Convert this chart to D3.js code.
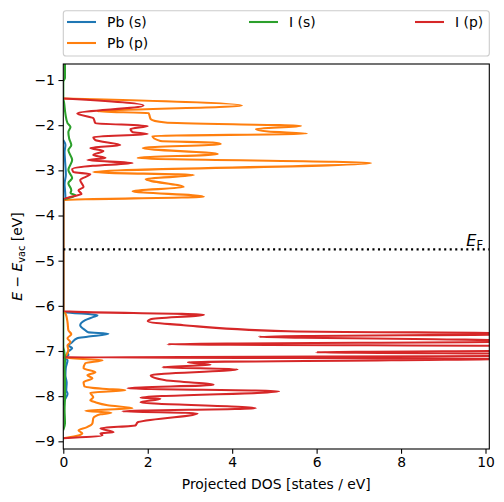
<!DOCTYPE html>
<html><head><meta charset="utf-8">
<script src="https://cdn.jsdelivr.net/npm/d3@7"></script>
<style>body{margin:0;background:#fff} svg{display:block} text{font-family:"DejaVu Sans",sans-serif}</style>
</head><body><svg id="c" width="504" height="502"></svg>
<script>
const seriesNames = ["Pb (s)", "Pb (p)", "I (s)", "I (p)"];
const seriesColors = ["#1f77b4", "#ff7f0e", "#2ca02c", "#d62728"];

// [energy (eV), DOS (states/eV)]
const pbS = [[-2.33,0],[-2.44,0.05],[-2.60,0.03],[-2.77,0.04],[-3.10,0.06],[-3.30,0.03],[-3.44,0.04],[-3.61,0.05],[-3.66,0],
  [-6.119,0],[-6.141,0.05],[-6.207,0.81],[-6.25,0.70],[-6.318,0.52],[-6.429,0.40],[-6.54,0.52],[-6.584,0.59],[-6.618,1.07],
  [-6.684,0.57],[-6.717,0.33],[-6.806,0.21],[-6.873,0.12],[-6.939,0.21],[-7.028,0.10],[-7.094,0.12],[-7.15,0.02],[-7.205,0.10],
  [-7.37,0.06],[-7.537,0.05],[-7.70,0.08],[-7.87,0.07],[-7.95,0.10],[-8.09,0.03],[-8.2,0]];
const pbP = [[-1.41,0],[-1.565,4.23],[-1.698,0.81],[-1.731,2.02],[-1.864,2.07],[-1.942,2.42],[-2.019,5.63],[-2.086,4.56],
  [-2.141,4.85],[-2.186,5.77],[-2.241,2.11],[-2.352,2.30],[-2.385,3.54],[-2.418,3.73],[-2.507,1.88],[-2.64,3.66],[-2.728,1.76],
  [-2.839,7.29],[-3.039,0.71],[-3.105,3.09],[-3.194,1.95],[-3.371,2.85],[-3.46,1.64],[-3.582,3.33],[-3.659,0],
  [-6.119,0],[-6.163,0.05],[-6.363,0.10],[-6.54,0.12],[-6.629,0.19],[-6.717,0.10],[-6.806,0.17],[-6.873,0.10],[-6.983,0.12],
  [-7.094,0.07],[-7.15,0.01],[-7.205,0.93],[-7.271,0.52],[-7.382,0.48],[-7.471,0.76],[-7.537,0.57],[-7.604,0.69],[-7.693,0.48],
  [-7.781,0.50],[-7.837,0.93],[-7.87,1.47],[-7.925,0.64],[-8.025,0.71],[-8.091,0.64],[-8.136,0.76],[-8.202,1.05],[-8.268,1.64],
  [-8.324,0.52],[-8.368,1.14],[-8.402,0.88],[-8.49,0.71],[-8.601,0.69],[-8.69,0.55],[-8.756,0.36],[-8.823,0.45],[-8.867,0.38],[-8.933,0]];
const iS = [[-0.60,0.04],[-0.95,0.04],[-1.04,0],[-1.40,0],[-1.51,0.02],[-1.75,0.05],[-1.953,0.10],[-2.041,0.17],[-2.152,0.12],
  [-2.30,0.14],[-2.44,0.19],[-2.551,0.12],[-2.773,0.21],[-2.994,0.12],[-3.172,0.21],[-3.283,0.12],[-3.438,0.19],[-3.504,0.17],
  [-3.559,0.29],[-3.659,0],
  [-6.9,0],[-7.0,0.02],[-7.2,0.04],[-7.4,0.03],[-7.6,0.04],[-8.0,0.04],[-8.3,0.03],[-8.6,0.04],[-8.75,0]];
const iP = [[-1.41,0],[-1.565,1.90],[-1.742,0.33],[-1.842,0.71],[-1.953,0.76],[-2.019,2.00],[-2.086,1.59],[-2.152,1.64],
  [-2.197,2.00],[-2.263,0.71],[-2.33,0.76],[-2.44,1.35],[-2.507,0.64],[-2.573,0.95],[-2.662,0.71],[-2.728,1.00],[-2.773,0.57],
  [-2.839,1.64],[-2.90,0.70],[-2.972,0.21],[-3.039,0.24],[-3.083,0.64],[-3.216,0.40],[-3.371,0.48],[-3.438,0.36],[-3.526,0.43],
  [-3.571,0.24],[-3.648,0],
  [-6.119,0],[-6.197,3.33],[-6.296,2.07],[-6.341,2.00],[-6.429,2.85],[-6.562,5.32],[-6.618,11.5],[-6.684,4.63],[-6.706,5.63],
  [-6.74,8.79],[-6.784,11.5],[-6.851,2.47],[-6.895,12],[-6.983,12],[-7.028,5.99],[-7.072,12],[-7.105,12],[-7.138,0.03],
  [-7.172,11],[-7.205,7.77],[-7.249,2.95],[-7.305,3.49],[-7.36,2.35],[-7.405,4.13],[-7.537,2.07],[-7.648,2.42],[-7.748,3.56],
  [-7.826,1.52],[-7.892,5.11],[-8.036,1.83],[-8.058,2.30],[-8.136,1.83],[-8.268,4.56],[-8.335,1.40],[-8.379,3.18],[-8.579,1.76],
  [-8.645,1.71],[-8.712,0.88],[-8.80,1.19],[-8.823,0.88],[-8.867,0.93],[-8.933,0]];
const seriesData = [pbS, pbP, iS, iP];

const fermiLevel = -4.75;
const dosTicks = [0, 2, 4, 6, 8, 10];
const energyTicks = [-1, -2, -3, -4, -5, -6, -7, -8, -9];
const dosRange = [0, 10.09];
const energyRange = [-0.645, -9.17];

const svg = d3.select("#c");
const M = {l: 63.3, r: 489.3, t: 64, b: 449};
const x = d3.scaleLinear().domain(dosRange).range([M.l, M.r]);
const y = d3.scaleLinear().domain(energyRange).range([M.t, M.b]);
const FS = "13.9px";

svg.append("defs").append("clipPath").attr("id", "clip").append("rect")
  .attr("x", M.l).attr("y", M.t).attr("width", M.r - M.l).attr("height", M.b - M.t);

const plot = svg.append("g").attr("clip-path", "url(#clip)");
const line = d3.line().x(d => x(d[1])).y(d => y(d[0])).curve(d3.curveMonotoneY);
seriesData.forEach((s, i) => {
  plot.append("path").datum(s).attr("d", line).attr("fill", "none")
    .attr("stroke", seriesColors[i]).attr("stroke-width", 2.08).attr("stroke-linejoin", "round");
});

// Fermi level
plot.append("line").attr("x1", x(dosRange[0])).attr("x2", x(dosRange[1]))
  .attr("y1", y(fermiLevel)).attr("y2", y(fermiLevel))
  .attr("stroke", "#000").attr("stroke-width", 2.08).attr("stroke-dasharray", "2.08,3.44");
const ef = svg.append("text").attr("x", 483).attr("y", y(fermiLevel) - 3.5).attr("text-anchor", "end");
ef.append("tspan").attr("font-style", "italic").attr("font-size", "16px").text("E");
ef.append("tspan").attr("font-size", "11.5px").attr("dy", 3).text("F");

// axes
const xa = svg.append("g").attr("transform", `translate(0,${M.b})`)
  .call(d3.axisBottom(x).tickValues(dosTicks).tickSize(4.86).tickPadding(3.5).tickFormat(d3.format("d")));
const ya = svg.append("g").attr("transform", `translate(${M.l},0)`)
  .call(d3.axisLeft(y).tickValues(energyTicks).tickSize(4.86).tickPadding(3.5).tickFormat(d3.format("d")));
[xa, ya].forEach(a => {
  a.select(".domain").remove();
  a.selectAll("line").attr("stroke", "#000").attr("stroke-width", 1.1);
  a.selectAll("text").attr("font-size", FS).attr("fill", "#000").attr("font-family", "DejaVu Sans");
});
svg.append("rect").attr("x", M.l).attr("y", M.t).attr("width", M.r - M.l).attr("height", M.b - M.t)
  .attr("fill", "none").attr("stroke", "#000").attr("stroke-width", 1.1);

// axis labels
svg.append("text").attr("x", (M.l + M.r) / 2).attr("y", 489).attr("text-anchor", "middle")
  .attr("font-size", FS).text("Projected DOS [states / eV]");
const yl = svg.append("text").attr("transform", `translate(22,${(M.t + M.b) / 2}) rotate(-90)`)
  .attr("text-anchor", "middle").attr("font-size", FS);
yl.append("tspan").attr("font-style", "italic").text("E");
yl.append("tspan").text(" \u2212 ");
yl.append("tspan").attr("font-style", "italic").text("E");
yl.append("tspan").attr("font-size", "9.7px").attr("dy", 2.5).text("vac");
yl.append("tspan").attr("dy", -2.5).text(" [eV]");

// legend
svg.append("rect").attr("x", 63.3).attr("y", 10.8).attr("width", 426).attr("height", 45.2).attr("rx", 2.8)
  .attr("fill", "#fff").attr("fill-opacity", 0.8).attr("stroke", "#cccccc").attr("stroke-width", 1.1);
const legPos = [[67, 22], [67, 43], [249, 22], [415, 22]];
seriesNames.forEach((n, i) => {
  const [lx, ly] = legPos[i];
  svg.append("line").attr("x1", lx).attr("x2", lx + 29).attr("y1", ly).attr("y2", ly)
    .attr("stroke", seriesColors[i]).attr("stroke-width", 2.08);
  svg.append("text").attr("x", lx + 40).attr("y", ly + 5).attr("font-size", FS).text(n);
});
</script></body></html>
